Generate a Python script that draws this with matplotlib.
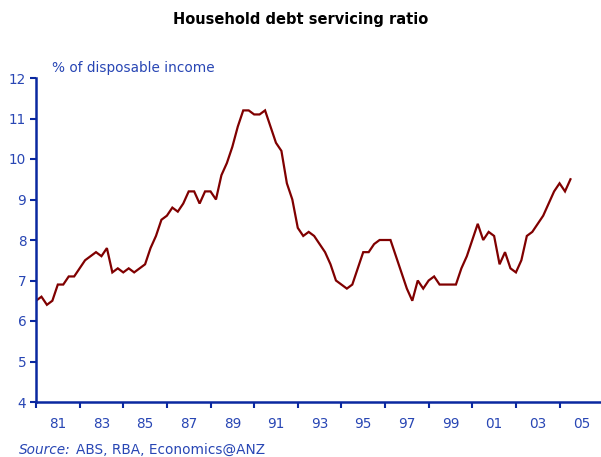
import numpy as np
import matplotlib
matplotlib.use('Agg')
import matplotlib.pyplot as plt

# quarterly, starting 1980 Q1
start_year = 1980
dsr = [6.5, 6.6, 6.4, 6.5, 6.9, 6.9, 7.1, 7.1, 7.3, 7.5,
       7.6, 7.7, 7.6, 7.8, 7.2, 7.3, 7.2, 7.3, 7.2, 7.3,
       7.4, 7.8, 8.1, 8.5, 8.6, 8.8, 8.7, 8.9, 9.2, 9.2,
       8.9, 9.2, 9.2, 9.0, 9.6, 9.9, 10.3, 10.8, 11.2, 11.2,
       11.1, 11.1, 11.2, 10.8, 10.4, 10.2, 9.4, 9.0, 8.3, 8.1,
       8.2, 8.1, 7.9, 7.7, 7.4, 7.0, 6.9, 6.8, 6.9, 7.3,
       7.7, 7.7, 7.9, 8.0, 8.0, 8.0, 7.6, 7.2, 6.8, 6.5,
       7.0, 6.8, 7.0, 7.1, 6.9, 6.9, 6.9, 6.9, 7.3, 7.6,
       8.0, 8.4, 8.0, 8.2, 8.1, 7.4, 7.7, 7.3, 7.2, 7.5,
       8.1, 8.2, 8.4, 8.6, 8.9, 9.2, 9.4, 9.2, 9.5]
year_labels = ['81', '83', '85', '87', '89', '91', '93', '95', '97', '99', '01', '03', '05']

axis_blue = '#0a28a0'
text_blue = '#2846b4'
line_red = '#800000'

fig = plt.figure(figsize=(6.01, 4.57), dpi=100)
ax = fig.add_axes([36 / 601, 55 / 457, 1 - 36 / 601, 324 / 457])

t = start_year + 0.25 * np.arange(len(dsr))
ax.plot(t, dsr, color=line_red, lw=1.6, solid_joinstyle='miter')

ax.set_xlim(1980, 2005.9)
ax.set_ylim(4, 12)
ax.set_yticks(range(4, 13))
ax.set_xticks(range(1980, 2005, 2))
ax.set_xticklabels([])
ax.set_xticks(np.arange(1981, 2006, 2), minor=True)
ax.set_xticklabels(year_labels, minor=True)

for s in ['top', 'right']:
    ax.spines[s].set_visible(False)
for s in ['left', 'bottom']:
    ax.spines[s].set_color(axis_blue)
    ax.spines[s].set_linewidth(1.8)

ax.tick_params(axis='y', colors=axis_blue, labelcolor=text_blue, labelsize=9.8,
               direction='out', length=4, width=1.5, pad=3)
ax.tick_params(axis='x', which='major', colors=axis_blue, direction='out',
               length=4, width=1.5)
ax.tick_params(axis='x', which='minor', length=0, labelcolor=text_blue,
               labelsize=9.8, pad=11)

fig.text(0.5, 0.957, 'Household debt servicing ratio', ha='center', va='center',
         fontsize=10.5, fontweight='bold', color='black')
fig.text(52 / 601, 1 - 68 / 457, '% of disposable income', ha='left', va='center',
         fontsize=9.8, color=text_blue)
fig.text(19 / 601, 1 - 450 / 457, 'Source:', ha='left', va='center',
         fontsize=9.8, color=text_blue, style='italic')
fig.text(76 / 601, 1 - 450 / 457, 'ABS, RBA, Economics@ANZ', ha='left', va='center',
         fontsize=9.8, color=text_blue)

plt.savefig('out.png', dpi=100)
